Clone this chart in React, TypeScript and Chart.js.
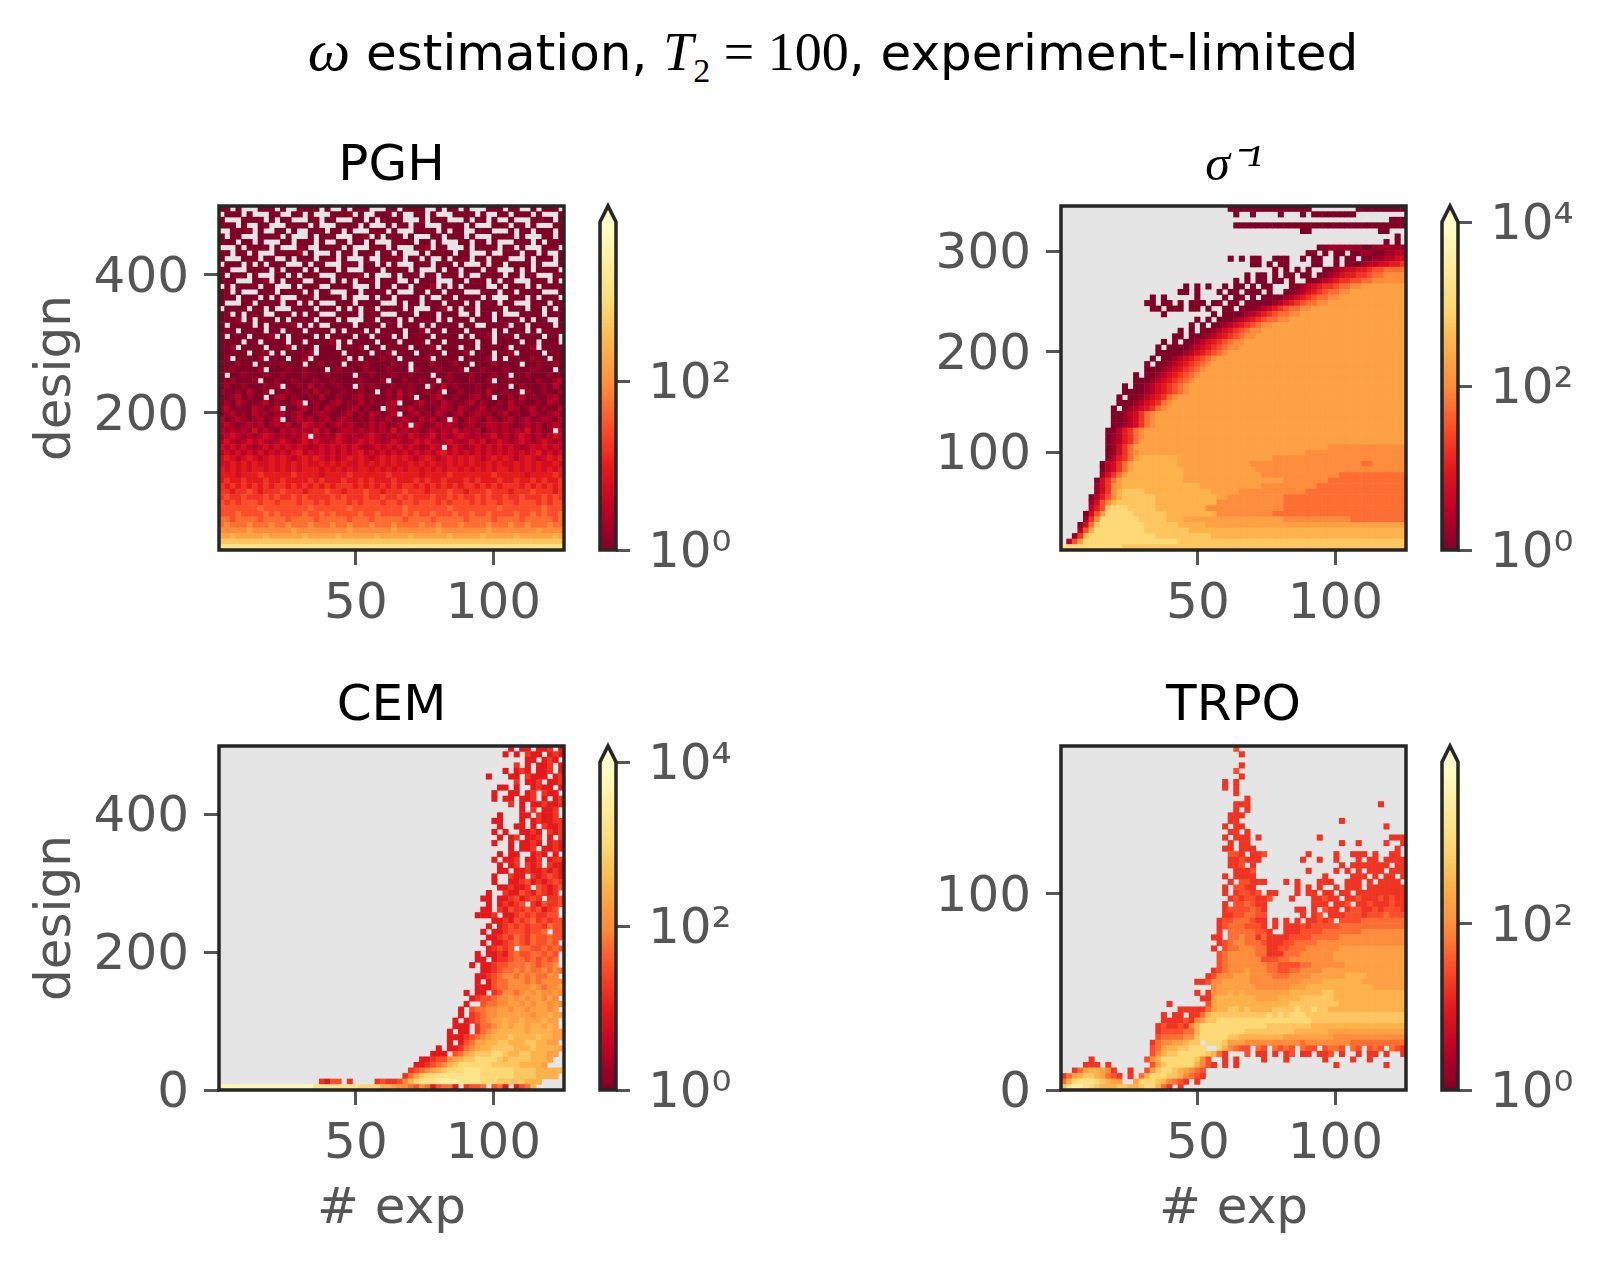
import React, { useEffect, useRef } from "react";
import { Chart, registerables } from "chart.js";

Chart.register(...registerables);

// Colour levels: a (lowest count) ... q (highest count); "." = empty cell
const LEVELS = "abcdefghijklmnopq";
const PALETTE = ["#800026", "#bd0026", "#e31a1c", "#fc4e2a", "#fd8d3c", "#feb24c", "#fed976", "#ffeda0", "#ffffcc"];
const GRID = 62;

const pghRows = [
  "aa.a...aaa.a..aaaa.a..a.aaa...aa.aaaa..a.aa.a...aaa.aa..a.aaa.",
  ".aaa.a...aa..aa.a...aaab.a..aaa.a..aa.a...aaaa.a..aa.aaa.a...a",
  "a...aaaa.a.aa...aa.aa...aa.a.aaaa...a.aaa...a.aa.a..a...aaaa.a",
  "aaa.a..aa...aaaa.a...aaaa.a...a.aa.aa...aaaa.a...aaa.aa.a...aa",
  "..aaab.a..aa.a..aaa.aa.a...aaa.a...aaaa.a.aa..aaa...a.aa.aaa.a",
  "a.aa...aaaa.a...a.aaa...aab.a.aaa.a...aa.aaa.a...aaaa.a...aa.a",
  "aaa.aa.a...aa.aaa.a..aa.aa.a...aaaa.aa.a...aa.aa.a...aaa.a.aaa",
  "...a.aaaa.a...aa..aaaa.a...aaa.a...aab.aa...a.aaaa.aa.a...aaa.",
  "aa.aa.a...aaaab.a...a.aa.aaa.aa.a...a.aaaa.aa...a..aaa.aa.a..a",
  "a...aaa.aa..a.aaa.aaa.a...a..aaab.aa.a..a.aaa.aa.aaa...a.aaa.a",
  ".aaa.a.a.aaa...a.aa...aaa.aa.a.a...aaa.aaa.a...a.aa.aaaa.a...a",
  "aa...aaaa.a.aaa.a.aaa.a...aaa.aaaa.a...a.aa.aaa.aa...a.a.aaaa.",
  "a.aaa.a...aa.a.aaa...aaaab.a...a.aaa.aa.aaa.a..aaaa.aa.aa...aa",
  "aaa...aab.a.aaa..aaa.a.a.aaa.aaa..a.aaa...aa.aaa.a.aa...aaa.a.",
  ".a.aaaa.aa...a.aaa..aaaa...a.aa.aa.aaab.a.a.aaaa..a.aaa.a.aaaa",
  "aa.a...aaa.aaaa.a.aa...aa.aaaa.a...aa.aa.aaa...aaa.aa.aaaa...a",
  "aaa.aaa.a.a...aab.aaaa.a...a.aa.aaaa.a..aa.aaaa.a...aaa.a.aaa.",
  "a...aa.aaaa.aa.a.a...aaa.aaaa...a.aa.aaa.aaa.a.aaa.aa...aaa.aa",
  ".aaaa.aa.a...aaaa.aaa.a.a.aa.aaaa.a...aab.a.aa.aaaa.aaa.aa.a.a",
  "aa.a.aaa..aaa.a.aa...aaaa.aaa...aaa.aaa.aaa..a.aa.a...aaaa.aaa",
  "aaab.a.aaa.a.aaaa.aaa.a...aa.aaa.a.aaaa.a.aaa.aaa.aaaa.a.aa..a",
  "a.aaaa.a.aaaab.a.a..aaaa.aaaa.aa.aaa.a.aaaa.aa..aaab.aa.aaaa.a",
  "aaa.aaaa.aa.aaa.aaaa.a.aaa.a.aaaa.aab.aa.aaa.aaaa.a.aaa.a.aaaa",
  "a.aaa.aaab.a.aaaa.a.aaaa.aa.aaa.a.aaaa.aaaa.a.aab.aaa.aaaa.aa.",
  "aaaa.aa.aaaa.aa.aaaab.a.aaaa.aaa.aaaa.aa.aaaaa.aa.aaaa.aa.aaa.",
  "aab.aaaa.aaab.aaa.aaa.aaab.aa.aaaa.aaab.aaa.aa.aaaaa.aaab.aaaa",
  "aaaaa.aab.a.aaaab.aaaa.aaaa.aab.aaa.aaaa.aaab.aaa.aab.aaaa.aaa",
  "aa.aaaab.aaa.aab.aaaaab.a.aaabaa.aaaab.aaaa.aaaab.a.aaaabaa.aa",
  "aaabaa.aaaabaaa.aabaaa.aaabaaaabaa.aaabaaabaa.aaabaaaa.aabaaba",
  "aabaaaab.aaabaabaaa.abaaaabaaabaaa.baaabaaab.aabaaabaaaabaaa.a",
  "a.aabaaabaabaaabaaabaaaa.aabaaabaabaaa.aabaaabaaabaa.aabaaabaa",
  "aabaaab.aabaabaaabaabaaaabaaab.aabaabaa.abaaabaab.aabaaaabaabc",
  "abaabaaabab.aabacabaabaa.babaaabaabaa.bacabaaabaabaa.abaaabaca",
  "baabacaab.aabaabacabaabaabaa.abacabaabab.aabaabacaabaa.baabaab",
  "aabcabaa.abcabaabacaabaabcabaabacab.aabcaabaabcab.aabacabaabca",
  "abacbaabcabaabc.abaabcabacabaabc.aabcabacbaabcabaabacabaabacba",
  "bcabaacbabc.aabcabacbaabcabaa.cbabcabaabcbacbabcabaacbabcabaac",
  "abcabacbbabcabcaabcbaabcabacbabc.abcabacbabcabcbbabcabaacbabcb",
  "cabcbabcabc.abcbcabcabcbabacabcabcbacbcab.cabcbacbabcabcabcbac",
  "bcbabcbcabcbcabdcbcabcbcbabcbcabcb.cbabcbcbabcabccbcbabcbcabcb",
  "cbcbcbdbcbacbcbcbdbcabccbcbcbcbdbcbcabcbcbdbcbcabcbcbcbdbcab.c",
  "bcdcbcbcdcbcbcbd.cbcbdcbcbcdcbcbcbdcbcdbcbcdcbcbcdbcbcdcbcbcdc",
  "cdcbcdcdcbcdcbcdcdcbcdcbcdcdcbcdcbcdcdcbcdcbcdcdbcdcbcdcbcdcbc",
  "dcdcdcbcdcdcdcdcbcdcdcdcdcbcdcdcdcdcbcdc.cdcbcdcdcdcdcbcdcdcdc",
  "cdcdcdcdcdcdcdecdcdcdcdcdecdcdcdcdcdcdcdecdcdcdcdcdcdcdcdecdcd",
  "dedcdedcdededcdededcdcdededcdedededcdedcdedededcdededcdedcdede",
  "ddedededdededededdedededdededededdedededdedededdededdedededded",
  "edededeededededeeededededeededededeedededeededededeededededede",
  "eeedeeefeeeeefeeeedeeeefeeeeeefeeeeedeeeefeeeeeeefeeeeedeeeefe",
  "efeefeeefeefeeeefefeeefeefefeeefeeefefeefeeefefeeefeefeefefeef",
  "fefefefefeffefefefefefffefefefefeffefefefefeffefefefffefefefef",
  "ffeffgfefffgfffefffgffefffgffefffgfffefffgffefffgfffefffgfffef",
  "fgffgfffgfgffgfgffffgfgfffgffgffgfgfffgffgfgffgfgffgffgfffgfgf",
  "gfgfgggfggfgggfggfgfgggfgfgggfggfggfgggfgfgggfgfggfggfgggfgfgg",
  "ggggggghgggggggghgggggghggggggggghggggggghgggggggghggggggghggg",
  "ggghgggghghgggghgghghgggghgghgggghghgghggghgghgghgggghgghghggh",
  "hhghhhhghhhhghhhhghhhhhghhhghhhhhghhhhghhhhhghhhhghhhhghhhhhgh",
  "hihhhihhhihhihhhihhhihhihhhihhhihhhhihhihhhihhhhihhhihhihhhihh",
  "iiiiijiiiiiiijiiiiiiiiijiiiiiiijiiiiiiijiiiiiiiijiiiiiiiijiiii",
  "jjkjjjjjkjjjjjjkjjjjjkjjjjjjkjjjjjkjjjjjjkjjjjjkjjjjjkjjjjjjkj",
  "l62",
  "n62",
];

const sigmaRows = [
  "@30a15.8a9",
  "@31a.2a.4a.3a.a8",
  "@59a3",
  "@31a31",
  "@43a2@57a2",
  "@60a.a",
  "@58a.a.a",
  "@46a2b6a2b*",
  "@44a2.a.a2.a2b2a2b2c*",
  "@30a.a.a2.2a3.2a.a2.2a.a2.a2b2c2d*",
  "@34a2.a.a2.4a2.2a.a2.a2.a2@52a2bc2d2e2f*",
  "@38a.a.a.a.2a2.a@47a2bcd2e2fg2h*",
  "@33a.a2.a.a2.a2.a@46a2bcde2f2gh2i*",
  "@30.a.a.a2.a2.a@44a2bcdef2g2h2i*",
  "@22a.a.a.2a.a2.a.a2@41a2bcdef2gh2i2j*",
  "@21a2.a.@28a.a2.a2a.a@40a2bcdefgh2i2j*",
  "@16a.a.@24a@29a.a2.a.a2@38a2bcdefgh2i2j*",
  "@15a2.a2.a.a2a.a3@27a2.a2.a3a2@36a2bcdefgh2i2j*",
  "@16a2.a2a.a2@24a.a.2a2.a2a2@33a2bcdefgh2i2j*",
  "@18a@27a@29a2.a2@31a2bcdefgh2i2j*",
  "@24a.a.a.a@29a2bcdefgh2i2j*",
  "@23a.a.a2.a2@27a2bcdefghi2j*",
  "@21a.a.a.a@25a2bcdefghi2j*",
  "@20a2.a2@24a2bcdefghi2j*",
  "@18a.a.a2.a@22a2bcdefghi2j*",
  "@17a.a2.a@21a2bcdefghi2j*",
  "@17a3.a@20a2bcdefghij*",
  "@16a.a2@18a2bcdefghij*",
  "@15a.a.a@17a2bcdefghij*",
  "@15a2.a@16a2bcdefghij*",
  "@13a.a.a@15a2bcdefghij*",
  "@13a2@14a2bcdefghij*",
  "@11a.a@13a2bcdefghij*",
  "@11a2@13a2bcdefghij*",
  "@10a.a@12a2bcdefhij*",
  "@10a2@11a2bcdefhij*",
  "@9a@11abcdefhij*",
  "@9a2@10abcdfhij*",
  "@9a.a@10abcdfhij*",
  "@9a@10abcdfhij*",
  "@8a@9acefhij*",
  "@8a@9bcefhij*",
  "@8a@9bcefhj*",
  "@8a@9bdfhj*@48i*",
  "@8a@9bdfhij*@44i*",
  "@8acefhjk7j*@38i*",
  "@7acdfhjk8j*@34i*@54h2i*",
  "@7acdfhjk9j*@35i*",
  "@7bdfhjk10j*@36i*@50h*",
  "@6adfhjk11j*@40i*@48h*",
  "@6bdfijk14j*@36i*@46h*",
  "@6bdfikl4k12j*@32i*@44h*",
  "@5acegikl6k11j*@30i*@40h*",
  "@5bdgikl7k11j*@28i*@40h*",
  "@5ceglm3l5k10j*@26i*@40h*",
  "@4adgjm5l6k10j*@28i*@38h*",
  "@4bfim7l5k*@22j*@40i*@52h*",
  "@3adhlm8l6k*@26j*",
  "@3cgkm9l8k*",
  "@2bfkm4m8l10k*",
  "@1cgjm5m12l*",
  "nm2m8l*",
];

const cemRows = [
  "@52e.@54ee.e2f.ee.e.e",
  "@51e.@53e.fee.efe.e.e",
  "@55ee.efe.fee.f",
  "@53f.e.eef.e.eef",
  "@51e.@53efe.eef.e.e",
  "@48e@52ee.feee.ef.f",
  "@53f.eef.eef.ee",
  "@50ee@53e.@56efee.ef.",
  "@49e.@52ee.ef.fee.e",
  "@49e@51ee.eef.e.efe",
  "@52f.e.eefeef.e.",
  "@54e.f.eef.efee",
  "@50e.@54ee.feef.ee",
  "@49ee@53.e.efeeffe.f",
  "@50e.@53ee.e.feef.ee",
  "@49e.e@53.eefe.fefe",
  "@50e.ef.eef.e.fee",
  "@49e@51.e.eefe.efee",
  "@52e.eef.eefef.e",
  "@50e@52ee..efe.e.fe",
  "@49e.e@52ef.eef.eff",
  "@50e.@52ef.fef.feef",
  "@50e2.@53eefeefefe.",
  "@49e@52fee.fefgfe",
  "@49e.@52eefgefefgf",
  "@50ee@52feef.gfefg",
  "@48e@50.feegfegfef",
  "@47ee.eefgefgf.ffg",
  "@48e.efefg.fegffg",
  "@47ee@50fegffgfgefg",
  "@46e3f.eefgfgffgg",
  "@49eefegfghfgfgg",
  "@48e.efgfgfggfhgg",
  "@47e.eefgggfggh.gg",
  "@48eefgfhgfhgghgg",
  "@47e.eefghgfhgghg",
  "@48efgfg.hhgghghg",
  "@46e.eefeghgghhghg",
  "@46ee@49effghhghghgh",
  "@45e.eefgghhhihghhi",
  "@47eefghhihihhihih",
  "@46eefghiihihihhii",
  "@46e.eghhiiihihiiii",
  "@46eeeghhiiiijihiij",
  "@44e.ee.fgiihijijiiji",
  "@45efgghiijijijjiji",
  "@44e@47ghhiijjijijjiji",
  "@43e.e@45ghhiijjijjijjjij",
  "@43e.@45fghiijjjjjjijjkjj",
  "@42e.ee@45fghijjkjjkjjjkjj",
  "@42eee.@46fhhijkjkkjkkjkj",
  "@41e.ee.fhijkkkkkjkkkkjj",
  "@41eeefghijkkklkkkklkkjj",
  "@41e.eghjjkkllkkkllkkjj",
  "@39e.ee@43fhijkkllllkkklkkkkjj",
  "@38eee@42ghjklllmmlkkllkkkjj",
  "@36eefgg@41ijkllmmmmlkllllkkkj",
  "@35eefghi@41klmmmmmmlllllkkkkj",
  "@34fghijklmmmnnnmmmmmmllllkkkkk",
  "@33fhjlmmnnnnnnnnmmmmmmllllkkkk",
  "@18fegg.f.@28fgffgi@34kmnnnoooonnnnmmmlllllkkk",
  "p17n8m4k2jiihgiheghhe.fggh.ghe.eghk",
];

const trpoRows = [
  "@31g",
  "@32f",
  "",
  "@32f",
  "@31g",
  "@32f",
  "@29f.f",
  "@29f@31f",
  "@31f",
  "@33f",
  "@31f2f@57f",
  "@31f.f",
  "@30f3",
  "@30f2@50f",
  "@29f.f2@58f",
  "@30f@31f.f",
  "@29f.f2@33f@35f@46f@59f2@61f",
  "@30f@32f2@50f@53f@58f@61f",
  "@29f2.f3@60f",
  "@30g2f.f2g@44f@49f@52f2f@56f@59f2",
  "@30f2g.f2@33f@43f@46f@49f@53f@55f2@58f2@60f2",
  "@30f2g.f@50f@52f2@54f2f@57f2.f2@60f",
  "@31f3g@44f@49f@51f.f@53f.f2f.f2@60ff",
  "@29f.f2gf@33f@47f@52f2@54f.f.f2.f2f*",
  "@30f.ggf2f@40f@42f@46f3@51f2@53f@55f.f2f2.f3",
  "@29f@31ggfg@34f@42f@44f.f.@49f.f2f.f2f3ff",
  "@29f.fggfg.f2@38f@42f.f2@47ff.ff.f3f3f2f",
  "@30fgfggf2g.@41f@45ffgf2.ffgf3gfgfff",
  "@29f@31gghggf@35f@45ff@47f.ffg.ffgfffgf*",
  "@29fgggghgf@42ff@45f.gf2.fggffgfgggfg*",
  "@29ffgghhgg@43f.fg.fffgggfggghgg*",
  "@28fgghhhgff@36f@38f.f@42f@44ffgfg.gggghhhhhh*",
  "@28fghhhgggf@36f.f.f@41ffgfggggghhhhhhhh*",
  "@28f.hhhhhggff@37f.@40f2fgggghhhhhhhiii*",
  "@27ff.hhihhhhgf@35f@37ff@39ffgggghhhhhiiiii*",
  "@28fghiihhhgfgff.@37ff@40gghhhhiiiiiiii*",
  "@27f.ghhiiihhgff@37f@39gghhhiiiiiijjjjj*",
  "@28ghiiiiihhgff@37ff@40hhhiiiiiijjjjjjj*",
  "@28ghiiiiiihhgf@36ggghhiiiiiiiijjjjjjj*",
  "@28ghiiiiiiihhgggghhiiiiiijjjjjjjjj*",
  "@27fghiiijiiihhgghhiiiijjjjjjjjjjjj*",
  "@26fgiiijjjiiiihhhiiiijjjjjjkkkkjjj*",
  "@24f@25fg@27iijjjjjiiiiiiiiijjjjkkkkkkkjj*",
  "@27ijjjjjjjiiiiiijjjkkkkkkkkkkkkjj*",
  "@24f.f@27ijjkjkjjjjjjjjkkkkkkllkkkkk*",
  "@25ff@27jkkkkkkkjjjjkkkkllllllkkkkk*",
  "@19f.@26gjkkkkkkkkkkkkklllllllllkkk*",
  "@21ff@23f2ff@26hjkkllklkkkkllllmllmllkk*",
  "@18f@20ff.ffg@25hkllllllllllmlmlmmmlll*",
  "@18ffffgff.gg@24ijllmmmmmmmmmmmmmmmmmlll*",
  "@17fgffgfggh@23ikmmmmmmmmmmmmllllllllkkk*",
  "@17fgggghhi@24kmmmmmmmmlllllllllkkkkkkjj*",
  "@17ghhhhiij@24lmmmmmllkkkkkkkkjjjjjjjjjii*",
  "@16fhiijjkll@26mmmljjjiiiiiiiiiihiiiiiiiih*",
  "@16ghjkkllmmm@28mkihgg@35hg.hghg.hgg.ghhg.hg.ghg.hgfhg*",
  "@16gikllmmmmmlkhf@33g.ff.f.fg.ff.ffg.f..f.ff.f..f.ff.f",
  "@5f@15gikmmmmmmlig@29f@31f.@36f@40f@47f@52f@55f",
  "@4f3.f@8f@16gjlmmmmmkig@27f.f.f@49f@58f",
  "@2fhjkkjif@12f@15gjlmmlkjihg",
  "fhjkllkjhgf@12f@14hkmmmllkihgf",
  "hkmnnnmlkjj@13jmmmlkihgf.f",
  "lnoonmlkkkllkklmmkhf.f",
];

const xTickValues = [50, 100];
const pghYTicks = [200, 400];
const sigmaYTicks = [100, 200, 300];
const cemYTicks = [0, 200, 400];
const trpoYTicks = [0, 100];
const cbarTicks = [1, 100, 10000];
const cbarTickLabels: Record<number, string> = { 1: "10⁰", 100: "10²", 10000: "10⁴" };

const FONT = "'DejaVu Sans'";
const TICK = "#555555";
const EDGE = "#262626";
const PLOT = 345;

function decodeRow(row: string): string[] {
  const out: string[] = new Array(GRID).fill(".");
  let cur = 0;
  let last = ".";
  const re = /@(\d+)|\*|([a-q.])(\d*)/g;
  let m: RegExpExecArray | null;
  while ((m = re.exec(row))) {
    if (m[1] !== undefined) {
      cur = +m[1];
    } else if (m[0] === "*") {
      while (cur < GRID) out[cur++] = last;
    } else {
      const n = m[3] ? +m[3] : 1;
      for (let i = 0; i < n && cur < GRID; i++) out[cur++] = m[2];
      last = m[2];
    }
  }
  return out;
}

function colorAt(t: number): string {
  const f = Math.max(0, Math.min(1, t)) * (PALETTE.length - 1);
  const i = Math.min(PALETTE.length - 2, Math.floor(f));
  const p = (h: string) => [1, 3, 5].map((k) => parseInt(h.slice(k, k + 2), 16));
  const a = p(PALETTE[i]);
  const b = p(PALETTE[i + 1]);
  const u = f - i;
  return `rgb(${a.map((v, k) => Math.round(v + (b[k] - v) * u)).join(",")})`;
}

const levelColor = (ch: string) => colorAt(LEVELS.indexOf(ch) / (LEVELS.length - 1));

const framePlugin = {
  id: "panelFrame",
  beforeDatasetsDraw(chart: any) {
    const { ctx, chartArea: a } = chart;
    ctx.save();
    ctx.fillStyle = "#E5E5E5";
    ctx.fillRect(a.left, a.top, a.width, a.height);
    ctx.restore();
  },
  afterDatasetsDraw(chart: any) {
    const { ctx, chartArea: a } = chart;
    ctx.save();
    ctx.strokeStyle = EDGE;
    ctx.lineWidth = 3.5;
    ctx.strokeRect(a.left, a.top, a.width, a.height);
    ctx.restore();
  },
};

const cbarFramePlugin = {
  id: "cbarFrame",
  afterDatasetsDraw(chart: any) {
    const { ctx, chartArea: a } = chart;
    const ext = 16;
    const mid = (a.left + a.right) / 2;
    ctx.save();
    ctx.beginPath();
    ctx.moveTo(a.left, a.top);
    ctx.lineTo(mid, a.top - ext);
    ctx.lineTo(a.right, a.top);
    ctx.closePath();
    ctx.fillStyle = PALETTE[8];
    ctx.fill();
    ctx.beginPath();
    ctx.moveTo(a.left, a.bottom);
    ctx.lineTo(a.left, a.top);
    ctx.lineTo(mid, a.top - ext);
    ctx.lineTo(a.right, a.top);
    ctx.lineTo(a.right, a.bottom);
    ctx.closePath();
    ctx.strokeStyle = EDGE;
    ctx.lineWidth = 3.5;
    ctx.lineJoin = "miter";
    ctx.stroke();
    ctx.restore();
  },
};

type Panel = {
  key: string;
  title: string;
  titleFont: any;
  rows: string[];
  yMin: number;
  yMax: number;
  yTicks: number[];
  axLeft: number;
  axTop: number;
  yLabel?: string;
  xLabel?: string;
  cbarExp: number;
  cbarBarTop: number;
};

const PANELS: Panel[] = [
  { key: "pgh", title: "PGH", titleFont: { family: FONT, size: 50, weight: "normal" }, rows: pghRows, yMin: 0.6, yMax: 500, yTicks: pghYTicks, axLeft: 219, axTop: 206, yLabel: "design", cbarExp: 3.89, cbarBarTop: 222 },
  { key: "sigma", title: "σ⁻¹", titleFont: { family: "'Liberation Serif'", size: 50, style: "italic", weight: "normal" }, rows: sigmaRows, yMin: 3, yMax: 344.7, yTicks: sigmaYTicks, axLeft: 1061, axTop: 206, cbarExp: 4.0, cbarBarTop: 222 },
  { key: "cem", title: "CEM", titleFont: { family: FONT, size: 50, weight: "normal" }, rows: cemRows, yMin: 0, yMax: 498.6, yTicks: cemYTicks, axLeft: 219, axTop: 746, yLabel: "design", xLabel: "# exp", cbarExp: 4.0, cbarBarTop: 762 },
  { key: "trpo", title: "TRPO", titleFont: { family: FONT, size: 50, weight: "normal" }, rows: trpoRows, yMin: 0, yMax: 175.5, yTicks: trpoYTicks, axLeft: 1061, axTop: 746, xLabel: "# exp", cbarExp: 3.95, cbarBarTop: 762 },
];

const X_MIN = 0.2;
const X_MAX = 125.7;
const TITLE_BLOCK = 68;

function cellsOf(p: Panel) {
  const pts: { x: number; y: number; level: string }[] = [];
  p.rows.map(decodeRow).forEach((cols, r) => {
    cols.forEach((ch, c) => {
      if (ch === ".") return;
      pts.push({
        x: X_MIN + ((c + 0.5) * (X_MAX - X_MIN)) / GRID,
        y: p.yMax - ((r + 0.5) * (p.yMax - p.yMin)) / GRID,
        level: ch,
      });
    });
  });
  return pts;
}

function makeHeat(canvas: HTMLCanvasElement, p: Panel, W: number, H: number) {
  return new Chart(canvas, {
    type: "scatter",
    data: {
      datasets: [
        {
          data: cellsOf(p) as any,
          pointStyle: "rect",
          pointBorderWidth: 0,
          borderWidth: 0,
          pointRadius: (ctx: any) => {
            const s = ctx.chart.scales.x;
            const side = s.width / GRID + 0.5;
            return side / Math.SQRT2;
          },
          pointBackgroundColor: (ctx: any) => levelColor(ctx.raw ? ctx.raw.level : "a"),
        } as any,
      ],
    },
    plugins: [framePlugin],
    options: {
      responsive: false,
      animation: false,
      events: [],
      layout: { autoPadding: false, padding: { right: 6, top: 0, bottom: 0, left: 0 } },
      plugins: {
        legend: { display: false },
        tooltip: { enabled: false },
        title: {
          display: true,
          text: p.title,
          color: "#000000",
          fullSize: false,
          font: { ...p.titleFont, lineHeight: 1 },
          padding: { top: 4, bottom: TITLE_BLOCK - 54 },
        },
      },
      scales: {
        x: {
          type: "linear",
          min: X_MIN,
          max: X_MAX,
          afterBuildTicks: (s: any) => {
            s.ticks = xTickValues.map((value) => ({ value }));
          },
          afterFit: (s: any) => {
            s.height = H;
          },
          border: { display: false },
          grid: { drawOnChartArea: false, tickColor: TICK, tickWidth: 3, tickLength: 15 },
          ticks: { color: TICK, font: { family: FONT, size: 50, lineHeight: 1 }, padding: 15, maxRotation: 0, autoSkip: false, callback: (v: any) => String(v) },
          title: p.xLabel
            ? { display: true, text: p.xLabel, color: TICK, font: { family: FONT, size: 50, lineHeight: 1 }, padding: { top: 0, bottom: 15 } }
            : { display: false },
        },
        y: {
          type: "linear",
          min: p.yMin,
          max: p.yMax,
          afterBuildTicks: (s: any) => {
            s.ticks = p.yTicks.map((value) => ({ value }));
          },
          afterFit: (s: any) => {
            s.width = W;
          },
          border: { display: false },
          grid: { drawOnChartArea: false, tickColor: TICK, tickWidth: 3, tickLength: 15 },
          ticks: { color: TICK, font: { family: FONT, size: 50, lineHeight: 1 }, padding: 15, labelOffset: 4, autoSkip: false, callback: (v: any) => String(v) },
          title: p.yLabel
            ? { display: true, text: p.yLabel, color: TICK, font: { family: FONT, size: 50, lineHeight: 1 }, padding: { top: 32, bottom: 0 } }
            : { display: false },
        },
      },
    } as any,
  });
}

function makeCbar(canvas: HTMLCanvasElement, p: Panel, padTop: number) {
  const steps = 160;
  const vmax = Math.pow(10, p.cbarExp);
  const stripes = [];
  for (let i = steps - 1; i >= 0; i--) {
    stripes.push({
      data: [[Math.pow(10, (i / steps) * p.cbarExp), vmax]],
      backgroundColor: colorAt((i + 0.5) / steps),
      borderWidth: 0,
      grouped: false,
      barPercentage: 1,
      categoryPercentage: 1,
    });
  }
  return new Chart(canvas, {
    type: "bar",
    data: { labels: [""], datasets: stripes as any },
    plugins: [cbarFramePlugin],
    options: {
      responsive: false,
      animation: false,
      events: [],
      layout: { autoPadding: false, padding: { left: 6, top: padTop, bottom: 36, right: 0 } },
      plugins: { legend: { display: false }, tooltip: { enabled: false } },
      scales: {
        x: { display: false },
        y: {
          type: "logarithmic",
          position: "right",
          min: 1,
          max: vmax,
          afterBuildTicks: (s: any) => {
            s.ticks = cbarTicks.filter((v) => v <= vmax + 1).map((value) => ({ value }));
          },
          afterFit: (s: any) => {
            s.width = 130;
            s.paddingTop = 0;
            s.paddingBottom = 0;
          },
          border: { display: false },
          grid: { drawOnChartArea: false, tickColor: TICK, tickWidth: 3, tickLength: 14 },
          ticks: { color: TICK, font: { family: FONT, size: 50, lineHeight: 1 }, padding: 18, labelOffset: 4, autoSkip: false, callback: (v: any) => cbarTickLabels[v] ?? "" },
        },
      },
    } as any,
  });
}

function PanelView({ p }: { p: Panel }) {
  const heatRef = useRef<HTMLCanvasElement>(null);
  const cbarRef = useRef<HTMLCanvasElement>(null);
  const W = p.axLeft === 219 ? 219 : 200;
  const H = p.xLabel ? 160 : 100;
  const heatLeft = p.axLeft - W;
  const heatTop = p.axTop - TITLE_BLOCK;
  const cbarTopCanvas = p.axTop - 6;
  const padTop = p.cbarBarTop - cbarTopCanvas;
  const cbarH = padTop + (p.axTop + 344 - p.cbarBarTop) + 36;
  useEffect(() => {
    const a = makeHeat(heatRef.current!, p, W, H);
    const b = makeCbar(cbarRef.current!, p, padTop);
    return () => {
      a.destroy();
      b.destroy();
    };
  }, []);
  return (
    <>
      <canvas
        ref={heatRef}
        width={W + PLOT + 6}
        height={TITLE_BLOCK + 344 + H}
        style={{ position: "absolute", left: heatLeft, top: heatTop, display: "block" }}
      />
      <canvas
        ref={cbarRef}
        width={152}
        height={cbarH}
        style={{ position: "absolute", left: p.axLeft + PLOT + 36 - 6, top: cbarTopCanvas, display: "block" }}
      />
    </>
  );
}

export default function App() {
  const serif: React.CSSProperties = { fontFamily: "'Liberation Serif', serif" };
  return (
    <div style={{ position: "absolute", left: 0, top: 0, width: 1603, height: 1262, background: "#fff", overflow: "hidden" }}>
      <div
        style={{
          position: "absolute",
          left: 0,
          width: 1666,
          top: 22,
          textAlign: "center",
          fontFamily: FONT,
          fontSize: 50,
          lineHeight: "62px",
          color: "#000",
          whiteSpace: "nowrap",
        }}
      >
        <span style={{ ...serif, fontStyle: "italic", fontSize: 60, lineHeight: 0 }}>ω</span> estimation,{" "}
        <span style={{ ...serif, fontSize: 54, lineHeight: 0 }}>
          <i>T</i>
          <sub style={{ fontSize: 34, lineHeight: 0 }}>2</sub>
          {" = 100"}
        </span>
        , experiment-limited
      </div>
      {PANELS.map((p) => (
        <PanelView key={p.key} p={p} />
      ))}
    </div>
  );
}
